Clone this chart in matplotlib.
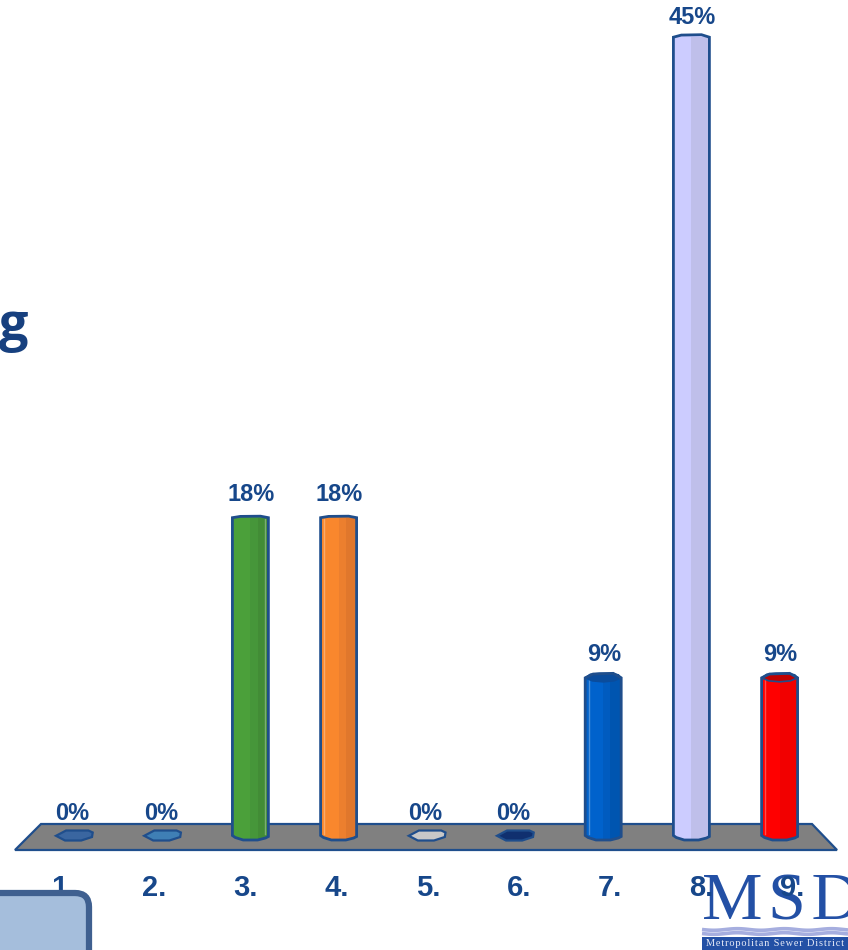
import numpy as np
import matplotlib
matplotlib.use("Agg")
import matplotlib.pyplot as plt
from matplotlib.patches import Polygon, FancyBboxPatch, Rectangle

# ---- data ----
categories = ["1.", "2.", "3.", "4.", "5.", "6.", "7.", "8.", "9."]
percent_values = [0, 0, 18.2, 18.2, 0, 0, 9.1, 45.5, 9.1]
percent_labels = ["0%", "0%", "18%", "18%", "0%", "0%", "9%", "45%", "9%"]
base_colors = ["#3A66A0", "#3F7FB5", "#4BA03A", "#F9872D", "#C8C8C8",
               "#10306F", "#0062CC", "#CCCCFF", "#FF0000"]
mid_colors = ["#3A66A0", "#3F7FB5", "#46963A", "#EC7F2E", "#C8C8C8",
              "#10306F", "#005BBF", "#BFBFEA", "#F20000"]
dark_colors = ["#3A66A0", "#3F7FB5", "#428C36", "#E0772C", "#C8C8C8",
               "#10306F", "#0055B0", "#BFBFEA", "#F20000"]
cap_colors = [None, None, None, None, None, None, "#0A4C9C", None, "#C00000"]

W, H = 848, 950
NAVY = "#17478A"
EDGE = "#1F4E8C"
BOLD = ["Liberation Sans", "DejaVu Sans"]

fig = plt.figure(figsize=(W / 100, H / 100), dpi=100)
fig.patch.set_facecolor("white")

# pixel-space layer for the slide furniture
deco = fig.add_axes([0, 0, 1, 1], zorder=1)
deco.set_xlim(0, W)
deco.set_ylim(H, 0)
deco.axis("off")

deco.add_patch(Polygon([(41, 824), (812, 824), (837, 850), (15, 850)], closed=True,
                       facecolor="#808080", edgecolor=EDGE, lw=1.6, zorder=1))

# logo
deco.text(702, 920, "M\u200aS\u200aD", family="Liberation Serif", fontsize=49, color="#2350A5",
          ha="left", va="baseline", zorder=2, clip_on=True)
wx = np.linspace(702, 848, 120)
for off in (929.5, 933.5):
    deco.plot(wx, off + 0.8 * np.sin((wx - 702) / 7.5), color="#A6AEDF", lw=2.6, zorder=2,
              solid_capstyle="butt")
deco.add_patch(Rectangle((702, 937), 146, 13, facecolor="#2350A5", edgecolor="none", zorder=2))
deco.text(706, 944, "\u200a".join("Metropolitan Sewer District"), family="Liberation Serif",
          fontsize=7.4, color="#E8ECF8", ha="left", va="center", zorder=3, clip_on=True)

# category labels sit on their own slightly wider spacing
for i, c in enumerate(categories):
    deco.text(63.5 + 91.1 * i, 888.5, c, family=BOLD, fontweight="bold", fontsize=21,
              color=NAVY, ha="center", va="center", zorder=4)

# cut-off title fragment
deco.text(28, 340, "g", family="Open Sans", fontweight="bold", fontsize=37.5, color="#17407F",
          ha="right", va="baseline", zorder=4)

# chart layer: x in category index, y in percent
PX_X, X0 = 88.2, 74.0
PX_Y, Y0 = 17.6, 838.0
ax = fig.add_axes([0, 0, 1, 1], zorder=2)
ax.set_xlim((0 - X0) / PX_X, (W - X0) / PX_X)
ax.set_ylim((Y0 - H) / PX_Y, Y0 / PX_Y)
ax.axis("off")
ax.patch.set_alpha(0)

BAR_W = 36 / PX_X


def silhouette(x, v, top_up):
    """Cylinder outline around category x with height v (cap size in px)."""
    xf = np.array([-0.5, -0.28, 0.28, 0.5, 0.5, 0.42, 0.2, -0.2, -0.42, -0.5])
    ya = np.array([v, v + top_up * 0.85 / PX_Y, v + top_up / PX_Y, v,
                   1.5 / PX_Y, 0.0, -2.0 / PX_Y, -2.0 / PX_Y, 0.5 / PX_Y, 2.5 / PX_Y])
    return np.column_stack([x + xf * BAR_W, ya])


cap_up = {2: 1.5, 3: 1.5, 6: 4.5, 7: 2.5, 8: 4.5}
disc_x = np.array([-0.5, -0.22, 0.4, 0.52, 0.5, 0.2, -0.25])
disc_y = np.array([-0.3, 5.0, 5.0, 3.0, -1.5, -5.0, -5.0])
for i, v in enumerate(percent_values):
    x = i
    if v == 0:
        pts = np.column_stack([x + disc_x * BAR_W, (disc_y + 2.5) / PX_Y])
        ax.add_patch(Polygon(pts, closed=True, facecolor=base_colors[i], edgecolor=EDGE,
                             lw=1.6, zorder=3))
        top = 7 / PX_Y
        off = 18
        dx = -1.5
    else:
        outline = silhouette(x, v, cap_up[i])
        body = Polygon(outline, closed=True, facecolor=base_colors[i],
                       edgecolor="none", zorder=3)
        ax.add_patch(body)
        # lit-to-shaded strips of the cylinder
        for left, right, col in ((0.0, 0.2, mid_colors[i]), (0.2, 0.52, dark_colors[i])):
            strip = ax.bar(x + (left + right) / 2 * BAR_W, v + 1, width=(right - left) * BAR_W,
                           bottom=-1, color=col, zorder=3.1)[0]
            strip.set_clip_path(body)
        # thin highlight
        if i != 7:
            hx = x + (0.40 if i == 2 else -0.40) * BAR_W
            ax.plot([hx, hx], [0.2, v - 0.1], color="white", alpha=0.3, lw=1, zorder=3.2)
        # visible cap on the short cylinders
        if cap_colors[i]:
            cx = np.array([-0.5, -0.36, -0.1, 0.2, 0.42, 0.5, 0.3, 0.0, -0.3])
            cy = np.array([0.0, 3.5, 4.5, 4.5, 3.0, 0.0, -3.0, -4.0, -3.0])
            cap = np.column_stack([x + cx * BAR_W, v + cy / PX_Y])
            ax.add_patch(Polygon(cap, closed=True, facecolor=cap_colors[i],
                                 edgecolor=EDGE if i == 8 else cap_colors[i], lw=1.2, zorder=3.3))
        ax.add_patch(Polygon(outline, closed=True, facecolor="none",
                             edgecolor=EDGE, lw=2, zorder=3.4))
        top = v
        off = 20 if i == 7 else 23
        dx = 0.5
    ax.annotate(percent_labels[i], (x, top), xytext=(dx * 0.72, off * 0.72),
                textcoords="offset points", family=BOLD, fontweight="bold", fontsize=17,
                color=NAVY, ha="center", va="center", zorder=5)

# rounded call-out box overlapping the first category label
box_ax = fig.add_axes([0, 0, 1, 1], zorder=3)
box_ax.set_xlim(0, W)
box_ax.set_ylim(H, 0)
box_ax.axis("off")
box_ax.patch.set_alpha(0)
box_ax.add_patch(FancyBboxPatch((-30, 893), 119, 90, boxstyle="round,pad=0,rounding_size=14",
                                mutation_aspect=1, facecolor="#A5BEDC", edgecolor="#3F6090", lw=4.5))

fig.savefig("out.png", dpi=100)
